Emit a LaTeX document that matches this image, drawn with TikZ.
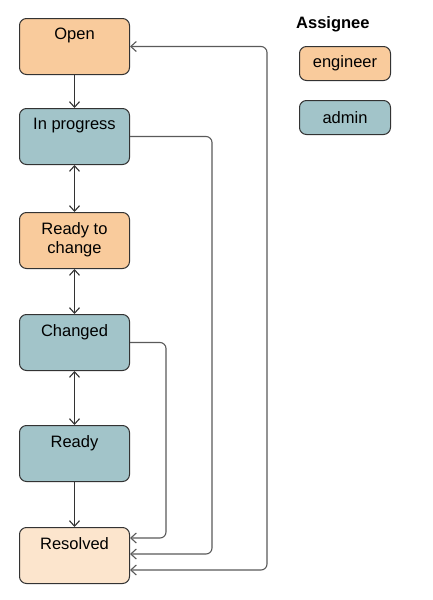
\documentclass[tikz,border=0pt]{standalone}
\usepackage{fontspec}
\setmainfont{Liberation Sans}
\usetikzlibrary{arrows.meta,calc}
\definecolor{eng}{HTML}{F9CB9C}
\definecolor{adm}{HTML}{A2C4C9}
\definecolor{res}{HTML}{FCE5CD}
\definecolor{edge}{HTML}{333333}
\definecolor{conn}{HTML}{5A5A5A}
\begin{document}
\begin{tikzpicture}[x=1pt,y=-1pt,
  box/.style={draw=edge,line width=1pt,rounded corners=7pt,minimum width=110pt,minimum height=56pt,inner sep=0pt,anchor=north west},
  legbox/.style={draw=edge,line width=1pt,rounded corners=7pt,minimum width=91pt,minimum height=34pt,inner sep=0pt,anchor=north west,font=\fontsize{16.5}{19}\selectfont},
  lbl/.style={anchor=north,inner sep=0pt,align=center,font=\fontsize{16.5}{19}\selectfont},
  varrow/.style={draw=edge,line width=1.1pt,-{Straight Barb[length=5.5pt,width=10pt]}},
  barrow/.style={draw=edge,line width=1.1pt,{Straight Barb[length=5.5pt,width=10pt]}-{Straight Barb[length=5.5pt,width=10pt]}},
  carrow/.style={draw=conn,line width=1.1pt,rounded corners=6pt,-{Straight Barb[length=5.5pt,width=10pt]}},
  cbarrow/.style={draw=conn,line width=1.1pt,rounded corners=6pt,{Straight Barb[length=5.5pt,width=10pt]}-{Straight Barb[length=5.5pt,width=10pt]}}]
\useasboundingbox (0,0) rectangle (433,600);
\fill[white] (0,0) rectangle (433,600);

\node[box,fill=eng] (open) at (19,18) {};
\node[box,fill=adm] (prog) at (19,108) {};
\node[box,fill=eng] (rtc) at (19,212) {};
\node[box,fill=adm] (chg) at (19,314) {};
\node[box,fill=adm] (rdy) at (19,425) {};
\node[box,fill=res] (resv) at (19,527) {};

\node[lbl] (topen) at ($(open.north)+(0,10)$) {Open};
\node[lbl] (tprog) at ($(prog.north)+(0,10)$) {In progress};
\node[lbl] (trtc) at ($(rtc.north)+(0,10)$) {Ready to\\change};
\node[lbl] (tchg) at ($(chg.north)+(0,10)$) {Changed};
\node[lbl] (trdy) at ($(rdy.north)+(0,10)$) {Ready};
\node[lbl] (tres) at ($(resv.north)+(0,10)$) {Resolved};

\node[anchor=base west,inner sep=0pt,font=\fontsize{16.5}{19}\selectfont\bfseries] (leg) at (296,28) {Assignee};
\node[legbox,fill=eng] (leng) at (299,46) {engineer};
\node[legbox,fill=adm] (ladm) at (299,100) {admin};

\draw[varrow] (open.south) -- (prog.north);
\draw[barrow] (prog.south) -- (rtc.north);
\draw[barrow] (rtc.south) -- (chg.north);
\draw[barrow] (chg.south) -- (rdy.north);
\draw[varrow] (rdy.south) -- (resv.north);

\coordinate (r1) at ($(resv.east)+(0,-17.5)$);
\coordinate (r2) at ($(resv.east)+(0,-1.5)$);
\coordinate (r3) at ($(resv.east)+(0,14.5)$);

\draw[carrow] (chg.east) -- ++(36,0) |- (r1);
\draw[carrow] (prog.east) -- ++(82,0) |- (r2);
\draw[cbarrow] (open.east) -- ++(137,0) |- (r3);
\end{tikzpicture}
\end{document}
